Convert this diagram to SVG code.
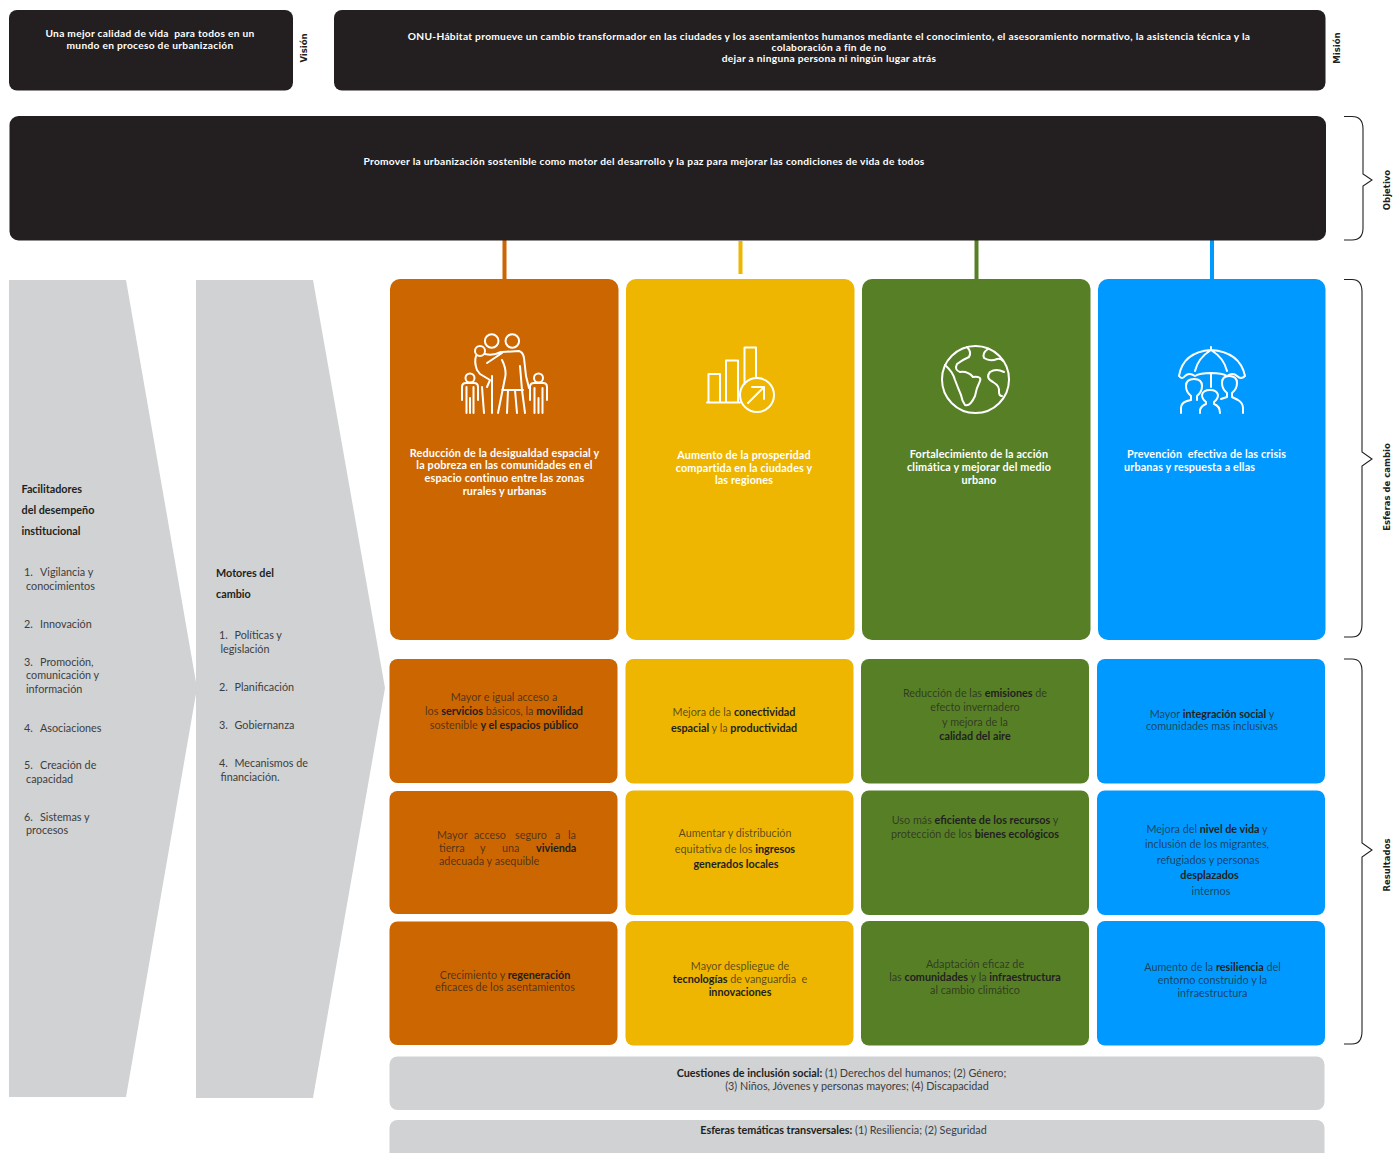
<svg xmlns="http://www.w3.org/2000/svg" width="1395" height="1153" viewBox="0 0 1395 1153">
<style>
text{font-family:"Lato","Liberation Sans",sans-serif;font-size:10.8px;fill:#231F20;white-space:pre}
text:not(.v){transform:translateY(.7px)}
.w{fill:#fff;font-weight:700;font-size:10.8px;letter-spacing:.15px;text-anchor:middle}
.k{fill:#fff;font-weight:700;font-size:10.2px;letter-spacing:.29px;text-anchor:middle}
.c{text-anchor:middle}
.r{fill-opacity:.72}
.b{font-weight:700}
.g{fill:#3d3d3f}
.v{font-family:"DejaVu Sans",sans-serif;font-weight:700;font-size:8.5px;text-anchor:middle}
.brace{fill:none;stroke:#231F20;stroke-width:1.1}
.ic{fill:none;stroke:#fff;stroke-width:2;stroke-linecap:round;stroke-linejoin:round}
.or{fill:#CC6600}.ye{fill:#EEB600}.gr{fill:#578026}.bl{fill:#0099FF}.da{fill:#231F20}.gy{fill:#D0D2D3}
</style>
<g id="connectors">
<rect x="502.500" y="240" width="4" height="40" class="or"/>
<rect x="738.500" y="241" width="4" height="33" class="ye"/>
<rect x="974.500" y="240" width="4" height="40" class="gr"/>
<rect x="1210" y="240" width="4" height="40" class="bl"/>
</g>
<g id="vision"><rect x="9" y="10" width="284" height="80.500" rx="8" class="da"/>
<text class="k"><tspan x="150" y="36.500">Una mejor calidad de vida  para todos en un</tspan><tspan x="150" y="48">mundo en proceso de urbanización</tspan></text>
<text class="v" transform="translate(307,48) rotate(-90)">Visión</text></g>
<g id="mission"><rect x="334" y="10" width="991.500" height="80.500" rx="8" class="da"/>
<text class="k"><tspan x="829" y="39.500">ONU-Hábitat promueve un cambio transformador en las ciudades y los asentamientos humanos mediante el conocimiento, el asesoramiento normativo, la asistencia técnica y la</tspan><tspan x="829" y="50.500">colaboración a fin de no</tspan><tspan x="829" y="61">dejar a ninguna persona ni ningún lugar atrás</tspan></text>
<text class="v" transform="translate(1340,48) rotate(-90)">Misión</text></g>
<g id="objective"><rect x="9.500" y="116" width="1316.500" height="124.500" rx="9" class="da"/>
<text class="k" x="644" y="164">Promover la urbanización sostenible como motor del desarrollo y la paz para mejorar las condiciones de vida de todos</text>
<path class="brace" d="M1344 116.500H1352Q1363 116.500 1363 129V174L1372 180L1363 186V228Q1363 240 1352 240H1344"/>
<text class="v" transform="translate(1390,190) rotate(-90)">Objetivo</text></g>
<g id="enablers"><path d="M9 280H126L197 688L126 1097H9Z" class="gy"/>
<text class="b"><tspan x="21.500" y="492">Facilitadores</tspan><tspan x="21.500" y="513">del desempeño</tspan><tspan x="21.500" y="534">institucional</tspan></text>
<text class="g"><tspan x="24" y="575">1.</tspan><tspan x="40" y="575">Vigilancia y</tspan><tspan x="26" y="589">conocimientos</tspan><tspan x="24" y="627">2.</tspan><tspan x="40" y="627">Innovación</tspan><tspan x="24" y="665">3.</tspan><tspan x="40" y="665">Promoción,</tspan><tspan x="26" y="678">comunicación y</tspan><tspan x="26" y="692">información</tspan><tspan x="24" y="731">4.</tspan><tspan x="40" y="731">Asociaciones</tspan><tspan x="24" y="768">5.</tspan><tspan x="40" y="768">Creación de</tspan><tspan x="26" y="782">capacidad</tspan><tspan x="24" y="820">6.</tspan><tspan x="40" y="820">Sistemas y</tspan><tspan x="26" y="833">procesos</tspan></text></g>
<g id="drivers"><path d="M196 280H313L385 688L313 1098H196Z" class="gy"/>
<text class="b"><tspan x="216" y="576">Motores del</tspan><tspan x="216" y="597">cambio</tspan></text>
<text class="g"><tspan x="219" y="638">1.</tspan><tspan x="234.500" y="638">Políticas y</tspan><tspan x="220.500" y="652">legislación</tspan><tspan x="219" y="690">2.</tspan><tspan x="234.500" y="690">Planificación</tspan><tspan x="219" y="728">3.</tspan><tspan x="234.500" y="728">Gobiernanza</tspan><tspan x="219" y="766">4.</tspan><tspan x="234.500" y="766">Mecanismos de</tspan><tspan x="220.500" y="780">financiación.</tspan></text></g>
<g id="sphere-1"><rect x="390" y="279" width="228.500" height="361" rx="10" class="or"/>
<g class="ic"><circle cx="491.700" cy="341" r="6.800"/><circle cx="512.300" cy="341" r="6.800"/><circle cx="480" cy="351" r="5"/><circle cx="470" cy="378" r="4.500"/><circle cx="538.500" cy="378" r="4.500"/>
<path d="M485 354Q493 356 501 352M476 356Q474 362 477 370L480 374L490 380L487 387M487 363L502 353M492 376V413M482 387L484 413"/>
<path d="M502 352L519 351Q523 352 524 358L526 376L529 388M502 360Q507 370 505 378L498 413M502 390H523M508 390L507 413M515 390L517 413M520 366L522 390L525 413"/>
<path d="M462 400V387Q462 383 466 383H474Q478 383 478 387V400M466.500 387V413M473.500 387V413M470 398V413"/>
<path d="M530 400V387Q530 383 534 383H543Q547 383 547 387V400M534.500 388V413M542.500 388V413M538.500 398V413"/></g>
<text class="w"><tspan x="504.500" y="456">Reducción de la desigualdad espacial y</tspan><tspan x="504.500" y="468.500">la pobreza en las comunidades en el</tspan><tspan x="504.500" y="481.500">espacio continuo entre las zonas</tspan><tspan x="504.500" y="494">rurales y urbanas</tspan></text></g>
<g id="sphere-2"><rect x="626" y="279" width="228.500" height="361" rx="10" class="ye"/>
<g class="ic"><path d="M707 402.500H740M708.500 402V374H720V402M726 402V360.500H738V402M744.500 384V347.500H756V378"/><circle cx="757" cy="395" r="17"/><path d="M748 403L764 387M752 387H764V399"/></g>
<text class="w"><tspan x="744" y="458">Aumento de la prosperidad</tspan><tspan x="744" y="471">compartida en la ciudades y</tspan><tspan x="744" y="483">las regiones</tspan></text></g>
<g id="sphere-3"><rect x="862" y="279" width="228.500" height="361" rx="10" class="gr"/>
<g class="ic"><circle cx="975.500" cy="379.500" r="33.500"/>
<path d="M967 347Q972 352 969 357Q962 360 957 364Q954 370 960 372Q968 371 973 377Q982 376 980 381Q976 389 975 396Q970 407 965 405Q962 401 961 395Q958 388 955 380Q953 372 945 365"/>
<path d="M988 349Q982 353 984 358Q990 362 997 359Q1001 358 1003 361M1004 372Q996 368 990 372Q985 378 993 382Q1000 386 999 392Q999 396 1002 396"/></g>
<text class="w"><tspan x="979" y="457">Fortalecimiento de la acción</tspan><tspan x="979" y="470">climática y mejorar del medio</tspan><tspan x="979" y="483">urbano</tspan></text></g>
<g id="sphere-4"><rect x="1098" y="279" width="227.500" height="361" rx="10" class="bl"/>
<g class="ic"><path d="M1211 347V350M1179 376Q1183 352 1211 350Q1240 352 1245 376Q1241 380 1237 376Q1233 372 1227 376Q1222 373 1211 373Q1200 373 1195 376Q1189 372 1185 376Q1182 380 1179 376ZM1195 371Q1198 358 1211 350Q1224 358 1227 371M1211 374V387"/>
<path d="M1181 413V408Q1181 403 1187 401L1191 400V396Q1186 392 1186 386Q1186 379 1194 379Q1202 379 1202 386Q1202 392 1197 396V400"/>
<path d="M1221 399L1227 397V393Q1222 389 1222 383Q1222 376 1229 376Q1237 376 1237 383Q1237 389 1232 393V397L1238 400Q1243 403 1243 408V413"/>
<path d="M1200 413V410Q1201 406 1206 404V402Q1202 399 1202 395Q1203 390 1210 390Q1217 390 1218 395Q1218 399 1214 402V404Q1220 406 1220 413"/></g>
<text class="w"><tspan x="1127" y="457" text-anchor="start">Prevención  efectiva de las crisis</tspan><tspan x="1124" y="470" text-anchor="start">urbanas y respuesta a ellas</tspan></text>
</g>
<path class="brace" d="M1344 279.500H1352Q1362 279.500 1362 292V452L1372 459L1362 466V624Q1362 637 1352 637H1344"/>
<text class="v" transform="translate(1390,487) rotate(-90)">Esferas de cambio</text>
<path class="brace" d="M1344 659H1352Q1362 659 1362 671V843L1372 850L1362 857V1031Q1362 1044 1352 1044H1344"/>
<text class="v" transform="translate(1390,865) rotate(-90)">Resultados</text>
<g id="o11"><rect x="389.500" y="659" width="228" height="124" rx="8" class="or"/><text class="c"><tspan x="504" y="700" class="r">Mayor e igual acceso a</tspan><tspan x="504" y="714"><tspan class="r">los </tspan><tspan class="b">servicios</tspan><tspan class="r"> básicos, la </tspan><tspan class="b">movilidad</tspan></tspan><tspan x="504" y="728"><tspan class="r">sostenible </tspan><tspan class="b">y el espacios público</tspan></tspan></text></g>
<g id="o12"><rect x="625.500" y="659" width="228" height="124.500" rx="8" class="ye"/><text class="c"><tspan x="734" y="715"><tspan class="r">Mejora de la </tspan><tspan class="b">conectividad</tspan></tspan><tspan x="734" y="731"><tspan class="b">espacial</tspan><tspan class="r"> y la </tspan><tspan class="b">productividad</tspan></tspan></text></g>
<g id="o13"><rect x="861" y="659" width="228" height="124.500" rx="8" class="gr"/><text class="c"><tspan x="975" y="696"><tspan class="r">Reducción de las </tspan><tspan class="b">emisiones</tspan><tspan class="r"> de</tspan></tspan><tspan x="975" y="710" class="r">efecto invernadero</tspan><tspan x="975" y="725" class="r">y mejora de la</tspan><tspan x="975" y="739" class="b">calidad del aire</tspan></text></g>
<g id="o14"><rect x="1097" y="659" width="228" height="124.500" rx="8" class="bl"/><text class="c"><tspan x="1212" y="717.500"><tspan class="r">Mayor </tspan><tspan class="b">integración social</tspan><tspan class="r"> y</tspan></tspan><tspan x="1212" y="729.500" class="r">comunidades mas inclusivas</tspan></text></g>
<g id="o21"><rect x="389.500" y="791" width="228" height="123" rx="8" class="or"/><text><tspan class="r" x="437" y="838">Mayor</tspan><tspan class="r" x="474" y="838">acceso</tspan><tspan class="r" x="515" y="838">seguro</tspan><tspan class="r" x="555" y="838">a</tspan><tspan class="r" x="568" y="838">la</tspan><tspan class="r" x="439" y="851">tierra</tspan><tspan class="r" x="480" y="851">y</tspan><tspan class="r" x="502" y="851">una</tspan><tspan class="b" x="536" y="851">vivienda</tspan><tspan class="r" x="439" y="864">adecuada y asequible</tspan></text></g>
<g id="o22"><rect x="625.500" y="790.500" width="228" height="124.500" rx="8" class="ye"/><text class="c"><tspan x="735" y="836" class="r">Aumentar y distribución</tspan><tspan x="735" y="852"><tspan class="r">equitativa de los </tspan><tspan class="b">ingresos</tspan></tspan><tspan x="736" y="867" class="b">generados locales</tspan></text></g>
<g id="o23"><rect x="861" y="790.500" width="228" height="124.500" rx="8" class="gr"/><text class="c"><tspan x="975" y="823"><tspan class="r">Uso más </tspan><tspan class="b">eficiente de los recursos</tspan><tspan class="r"> y</tspan></tspan><tspan x="975" y="837"><tspan class="r">protección de los </tspan><tspan class="b">bienes ecológicos</tspan></tspan></text></g>
<g id="o24"><rect x="1097" y="790.500" width="228" height="124.500" rx="8" class="bl"/><text class="c"><tspan x="1207" y="832"><tspan class="r">Mejora del </tspan><tspan class="b">nivel de vida</tspan><tspan class="r"> y</tspan></tspan><tspan x="1207" y="847" class="r">inclusión de los migrantes,</tspan><tspan x="1208" y="863" class="r">refugiados y personas</tspan><tspan x="1209.500" y="878" class="b">desplazados</tspan><tspan x="1211" y="894" class="r">internos</tspan></text></g>
<g id="o31"><rect x="389.500" y="921.500" width="228" height="123.500" rx="8" class="or"/><text class="c"><tspan x="505" y="978"><tspan class="r">Crecimiento y </tspan><tspan class="b">regeneración</tspan></tspan><tspan x="505" y="990" class="r">eficaces de los asentamientos</tspan></text></g>
<g id="o32"><rect x="625.500" y="921" width="228" height="124.500" rx="8" class="ye"/><text class="c"><tspan x="740" y="969" class="r">Mayor despliegue de</tspan><tspan x="740" y="982"><tspan class="b">tecnologías</tspan><tspan class="r"> de vanguardia  e</tspan></tspan><tspan x="740" y="995" class="b">innovaciones</tspan></text></g>
<g id="o33"><rect x="861" y="921" width="228" height="124.500" rx="8" class="gr"/><text class="c"><tspan x="975" y="967" class="r">Adaptación eficaz de</tspan><tspan x="975" y="980"><tspan class="r">las </tspan><tspan class="b">comunidades</tspan><tspan class="r"> y la </tspan><tspan class="b">infraestructura</tspan></tspan><tspan x="975" y="993" class="r">al cambio climático</tspan></text></g>
<g id="o34"><rect x="1097" y="921" width="228" height="124.500" rx="8" class="bl"/><text class="c"><tspan x="1212.500" y="970"><tspan class="r">Aumento de la </tspan><tspan class="b">resiliencia</tspan><tspan class="r"> del</tspan></tspan><tspan x="1212.500" y="983" class="r">entorno construido y la</tspan><tspan x="1212.500" y="996" class="r">infraestructura</tspan></text></g>
<g id="social"><rect x="389.500" y="1056.500" width="935" height="53.500" rx="8" class="gy"/><text class="c"><tspan x="841.500" y="1076"><tspan class="b">Cuestiones de inclusión social:</tspan><tspan class="g"> (1) Derechos del humanos; (2) Género;</tspan></tspan><tspan x="857" y="1089" class="g">(3) Niños, Jóvenes y personas mayores; (4) Discapacidad</tspan></text></g>
<g id="crosscutting"><rect x="389.500" y="1120" width="935" height="50" rx="8" class="gy"/><text class="c"><tspan x="843.500" y="1133"><tspan class="b">Esferas temáticas transversales:</tspan><tspan class="g"> (1) Resiliencia; (2) Seguridad</tspan></tspan></text></g>
</svg>
